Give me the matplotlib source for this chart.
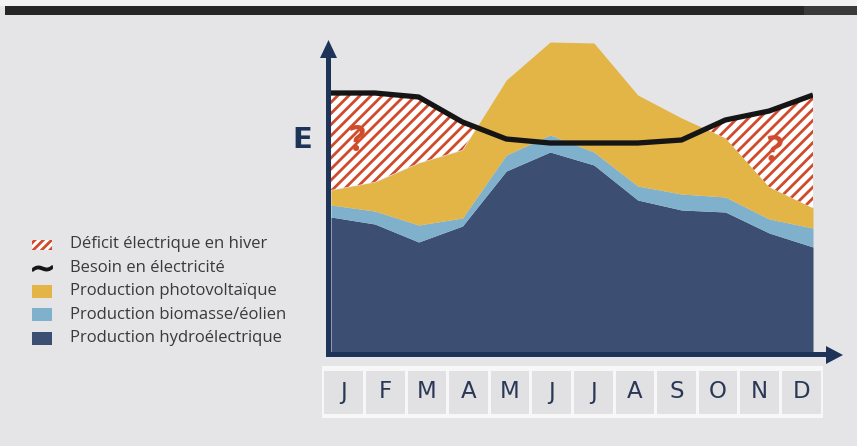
import matplotlib.pyplot as plt
from matplotlib.patches import Rectangle, Polygon
import numpy as np

# monthly values (arbitrary energy units)
months = ['J', 'F', 'M', 'A', 'M', 'J', 'J', 'A', 'S', 'O', 'N', 'D']
hydro = [137, 130, 112, 128, 183, 202, 189, 154, 144, 142, 121, 107]
biomass = [12, 13, 17, 8, 16, 17, 13, 14, 16, 15, 14, 19]
solar = [15, 29, 62, 68, 75, 93, 109, 91, 76, 59, 32, 20]
demand = [261, 261, 257, 232, 215, 211, 211, 211, 214, 234, 243, 259]

legend_labels = ['Déficit électrique en hiver', 'Besoin en électricité',
                 'Production photovoltaïque', 'Production biomasse/éolien',
                 'Production hydroélectrique']

c_hydro = '#3c4f73'
c_bio = '#80b1cc'
c_solar = '#e3b446'
c_red = '#d04a2b'
c_navy = '#1d3358'
c_bg = '#e5e5e7'
c_text = '#3a3a3a'

plt.rcParams['hatch.linewidth'] = 2.0
plt.rcParams['font.family'] = ['Open Sans', 'DejaVu Sans']

W, H = 857, 446
fig = plt.figure(figsize=(W / 100, H / 100), dpi=100)
fig.patch.set_facecolor(c_bg)

# background layer in pixel coords
bg = fig.add_axes([0, 0, 1, 1], zorder=0)
bg.set_xlim(0, W)
bg.set_ylim(H, 0)
bg.axis('off')
bg.add_patch(Rectangle((0, 0), W, 6, color='#f2f2f2', lw=0))
bg.add_patch(Rectangle((5, 6), W, 8.5, color='#262626', lw=0))
bg.add_patch(Rectangle((804, 6), W, 8.5, color='#3a3a3a', lw=0))

# data
x = np.arange(len(months))
hydro = np.array(hydro)
bio_top = hydro + np.array(biomass)
solar_top = bio_top + np.array(solar)
demand = np.array(demand)

ax = fig.add_axes([331 / W, (H - 354) / H, (813 - 331) / W, 314 / H], zorder=1)
ax.set_xlim(0, 11)
ax.set_ylim(0, 314)
ax.axis('off')
ax.patch.set_alpha(0)

ax.fill_between(x, 0, hydro, color=c_hydro, lw=0)
ax.fill_between(x, hydro, bio_top, color=c_bio, lw=0)
ax.fill_between(x, bio_top, solar_top, color=c_solar, lw=0)
ax.fill_between(x, solar_top, demand, where=demand >= solar_top, interpolate=True,
                facecolor='white', edgecolor=c_red, hatch='///', lw=0)
ax.plot(x, demand, color='#151515', lw=3.8, solid_joinstyle='round', solid_capstyle='butt')

ax.text(0.59, 212, '?', color=c_red, fontsize=25, fontweight='bold',
        ha='center', va='center')
ax.text(10.09, 202, '?', color=c_red, fontsize=25, fontweight='bold',
        ha='center', va='center', rotation=-8)

# axes arrows and labels on top
fg = fig.add_axes([0, 0, 1, 1], zorder=2)
fg.set_xlim(0, W)
fg.set_ylim(H, 0)
fg.axis('off')
fg.patch.set_alpha(0)
fg.add_patch(Rectangle((326, 55), 5, 302, color=c_navy, lw=0))
fg.add_patch(Polygon([(328.5, 40), (320, 58), (337, 58)], color=c_navy, lw=0))
fg.add_patch(Rectangle((326, 352), 502, 5, color=c_navy, lw=0))
fg.add_patch(Polygon([(843, 355), (826, 346), (826, 364)], color=c_navy, lw=0))
fg.text(302, 140, 'E', color=c_navy, fontsize=21, fontweight='bold',
        family='DejaVu Sans', ha='center', va='center')

# legend
row_y = [244.5 + 23.4 * i for i in range(5)]
fg.add_patch(Rectangle((32, row_y[0] - 5), 20, 10, facecolor='white',
                       edgecolor=c_red, hatch='////', lw=0))
fg.plot(42, row_y[1], marker='$\\sim$', ms=14, mew=1.0, color='#151515')
for yy, col in zip(row_y[2:], [c_solar, c_bio, c_hydro]):
    fg.add_patch(Rectangle((32, yy - 6.5), 20, 13, color=col, lw=0))
for yy, lab in zip(row_y, legend_labels):
    fg.text(70, yy, lab, color=c_text, fontsize=12, ha='left', va='center')

# month strip
fg.add_patch(Rectangle((322, 366), 501, 52, color='#f7f7f8', lw=0))
mx = fig.add_axes([323 / W, (H - 417) / H, 499 / W, 50 / H], zorder=3)
mx.set_xlim(-0.5, 11.5)
mx.set_ylim(0, 1)
mx.axis('off')
mx.bar(x, 0.86, bottom=0.07, width=0.93, color='#e1e1e3', lw=0)
for i, m in enumerate(months):
    mx.text(i, 0.5, m, color='#2a3856', fontsize=16.5, family='DejaVu Sans',
            ha='center', va='center')

fig.savefig('out.png', dpi=100, facecolor=fig.get_facecolor())
